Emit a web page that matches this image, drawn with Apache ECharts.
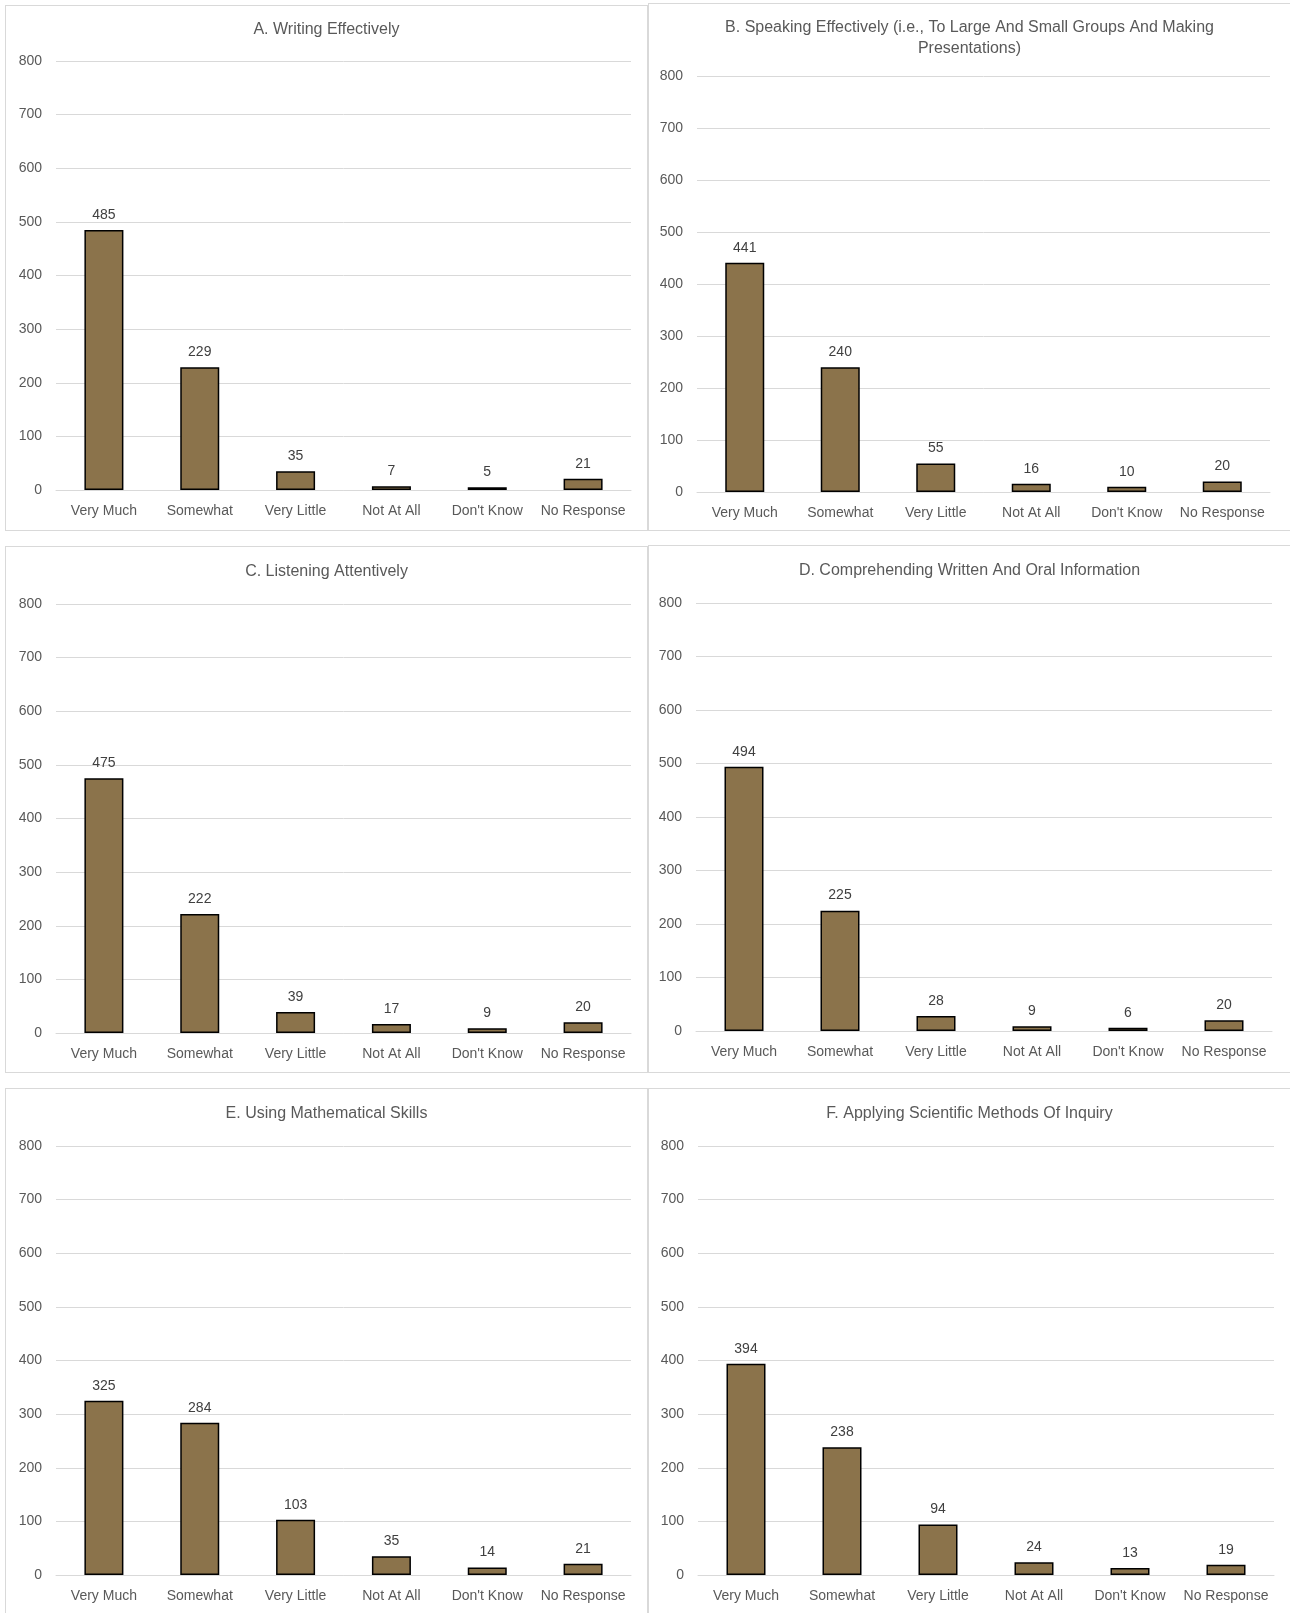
<!DOCTYPE html>
<html>
<head>
<meta charset="utf-8">
<script src="https://cdn.jsdelivr.net/npm/echarts@6/dist/echarts.min.js"></script>
<style>
  html, body { margin: 0; padding: 0; background: #fff; }
  #page { position: relative; width: 1290px; height: 1613px; overflow: hidden; }
  .panel { position: absolute; box-sizing: border-box; border: 1px solid #d9d9d9; background: #fff; }
</style>
</head>
<body>
<div id="page"></div>
<script>
// categories shared by every panel
const categories = ['Very Much', 'Somewhat', 'Very Little', 'Not At All', "Don't Know", 'No Response'];
const yTicks = [0, 100, 200, 300, 400, 500, 600, 700, 800];

const titles = [
  'A. Writing Effectively',
  'B. Speaking Effectively (i.e., To Large And Small Groups And Making\nPresentations)',
  'C. Listening Attentively',
  'D. Comprehending Written And Oral Information',
  'E. Using Mathematical Skills',
  'F. Applying Scientific Methods Of Inquiry'
];

const writingA = [485, 229, 35, 7, 5, 21];
const speakingB = [441, 240, 55, 16, 10, 20];
const listeningC = [475, 222, 39, 17, 9, 20];
const comprehendingD = [494, 225, 28, 9, 6, 20];
const mathE = [325, 284, 103, 35, 14, 21];
const scienceF = [394, 238, 94, 24, 13, 19];

const seriesData = [writingA, speakingB, listeningC, comprehendingD, mathE, scienceF];

// panel boxes and plot margins (px)
const panels = [
  { x: 5,   y: 5,    w: 643, h: 526, top: 55, bottom: 40, left: 50, right: 16, titleTop: 8 },
  { x: 648, y: 3,    w: 643, h: 528, top: 72, bottom: 38, left: 48, right: 20, titleTop: 8 },
  { x: 5,   y: 546,  w: 643, h: 527, top: 57, bottom: 39, left: 50, right: 16, titleTop: 9 },
  { x: 648, y: 545,  w: 643, h: 528, top: 57, bottom: 41, left: 47, right: 18, titleTop: 9 },
  { x: 5,   y: 1088, w: 643, h: 527, top: 57, bottom: 39, left: 50, right: 16, titleTop: 9 },
  { x: 648, y: 1088, w: 643, h: 527, top: 57, bottom: 39, left: 49, right: 16, titleTop: 9 }
];

const font = '"Liberation Sans", Arial, sans-serif';
const page = document.getElementById('page');

panels.forEach((p, i) => {
  const div = document.createElement('div');
  div.className = 'panel';
  div.style.left = p.x + 'px';
  div.style.top = p.y + 'px';
  div.style.width = p.w + 'px';
  div.style.height = p.h + 'px';
  page.appendChild(div);

  const chart = echarts.init(div, null, { renderer: 'canvas' });
  chart.setOption({
    animation: false,
    textStyle: { fontFamily: font },
    title: {
      text: titles[i],
      left: 'center',
      top: p.titleTop,
      textStyle: { fontFamily: font, fontSize: 16, fontWeight: 'normal', color: '#595959', lineHeight: 21 }
    },
    grid: { top: p.top, bottom: p.bottom, left: p.left, right: p.right, containLabel: false },
    xAxis: {
      type: 'category',
      data: categories,
      axisLine: { show: true, lineStyle: { color: '#d9d9d9', width: 1 } },
      axisTick: { show: false },
      axisLabel: { color: '#595959', fontSize: 14, margin: 14, interval: 0 }
    },
    yAxis: {
      type: 'value',
      min: yTicks[0],
      max: yTicks[yTicks.length - 1],
      interval: yTicks[1] - yTicks[0],
      axisLine: { show: false },
      axisTick: { show: false },
      axisLabel: { color: '#595959', fontSize: 14, margin: 14 },
      splitLine: { lineStyle: { color: '#d9d9d9', width: 1 } }
    },
    series: [{
      type: 'bar',
      data: seriesData[i],
      barWidth: 39,
      itemStyle: { color: '#8b734b', borderColor: '#000', borderWidth: 1.5 },
      label: { show: true, position: 'top', distance: 8, color: '#404040', fontSize: 14 }
    }]
  });
});
</script>
</body>
</html>
